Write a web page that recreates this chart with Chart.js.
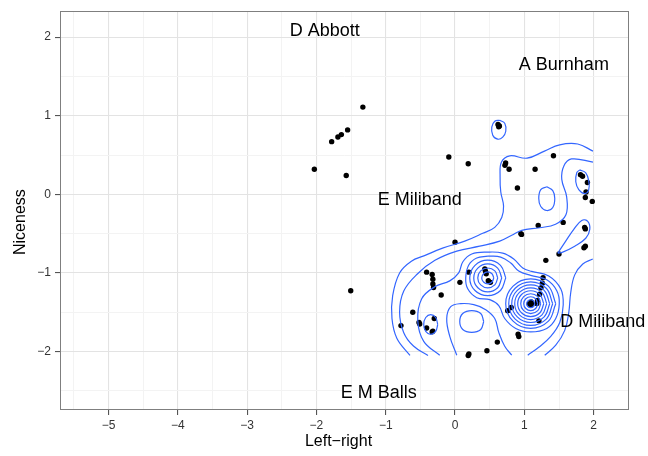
<!DOCTYPE html>
<html>
<head>
<meta charset="utf-8">
<script src="https://cdn.jsdelivr.net/npm/chart.js@4.4.1/dist/chart.umd.min.js"></script>
<style>
  html, body { margin: 0; padding: 0; background: #fff; }
</style>
</head>
<body>
<canvas id="chart" width="648" height="456"></canvas>
<script>
// candidate scores
var pointX = [-1.33, -1.55, -1.64, -1.69, -1.78, -2.03, -1.57, -1.505, -0.09, 0.19,
  0.62, 0.64, 0.63, 0.73, 0.72, 0.78, 1.42, 1.155, 0.90,
  1.81, 1.84, 1.91, 1.89, 1.88, 1.98, 1.20, 1.56, 1.87, 1.88, 0.95, 0.96, 0.00,
  1.86, 1.88, 1.50, 1.31,
  -0.41, -0.33, -0.32, -0.32, -0.31, -0.20, 0.20, 0.07,
  0.43, 0.45, 0.48, 0.51, 0.44,
  1.27, 1.26, 1.24, 1.22, 1.19, 1.18, 1.11, 1.07, 1.09, 1.10,
  0.81, 0.76, 1.21, 0.91, 0.92, 0.61, 0.46, 0.20, 0.19,
  -0.61, -0.52, -0.51, -0.30, -0.41, -0.33, -0.32, -0.78];
var pointY = [1.11, 0.82, 0.76, 0.73, 0.67, 0.32, 0.24, -1.227, 0.475, 0.39,
  0.89, 0.87, 0.86, 0.40, 0.37, 0.32, 0.49, 0.32, 0.08,
  0.25, 0.23, 0.15, 0.03, -0.04, -0.09, -0.395, -0.357, -0.42, -0.44, -0.50, -0.51, -0.61,
  -0.68, -0.66, -0.76, -0.84,
  -0.99, -1.02, -1.08, -1.14, -1.185, -1.28, -0.99, -1.12,
  -0.95, -1.01, -1.10, -1.12, -0.98,
  -1.06, -1.13, -1.19, -1.27, -1.35, -1.39, -1.39, -1.395, -1.41, -1.37,
  -1.44, -1.48, -1.61, -1.78, -1.81, -1.88, -1.99, -2.03, -2.05,
  -1.50, -1.63, -1.65, -1.58, -1.70, -1.75, -1.74, -1.67];

// candidate names
var nameText = ["D Abbott", "A Burnham", "E Miliband", "D Miliband", "E M Balls"];
var nameX = [-1.88, 1.57, -0.51, 2.13, -1.10];
var nameY = [2.08, 1.64, -0.07, -1.63, -2.53];

var xTicks = [-5, -4, -3, -2, -1, 0, 1, 2];
var yTicks = [-2, -1, 0, 1, 2];

// density contours, [x, y]
var lineOuter = [[-0.65,-2.05],[-0.84,-1.83],[-0.91,-1.58],[-0.90,-1.29],[-0.80,-1.00],[-0.63,-0.85],[-0.44,-0.78],[-0.18,-0.685],[0.14,-0.596],[0.40,-0.496],[0.573,-0.42],[0.674,-0.294],[0.70,-0.15],[0.66,0.03],[0.65,0.22],[0.67,0.41],[0.79,0.49],[1.04,0.46],[1.29,0.55],[1.51,0.63],[1.77,0.64],[1.99,0.55]];
var lineSecond = [[-0.39,-2.05],[-0.60,-1.93],[-0.74,-1.76],[-0.80,-1.50],[-0.74,-1.23],[-0.54,-1.01],[-0.29,-0.84],[0.025,-0.723],[0.356,-0.66],[0.645,-0.596],[0.818,-0.521],[0.962,-0.458],[1.22,-0.425],[1.45,-0.38],[1.60,-0.26],[1.61,-0.03],[1.54,0.19],[1.57,0.36],[1.68,0.45],[1.99,0.41]];
var lineThird = [[-0.221,-2.047],[-0.452,-1.870],[-0.538,-1.605],[-0.481,-1.328],[-0.293,-1.177],[-0.076,-1.101],[0.053,-1.000],[0.111,-0.861],[0.241,-0.760],[0.472,-0.735],[0.688,-0.748],[0.847,-0.823],[0.977,-0.937],[1.107,-0.981],[1.352,-1.038],[1.525,-1.202],[1.561,-1.404],[1.511,-1.630],[1.381,-1.807],[1.208,-1.946],[1.049,-2.047]];
var lineArch = [[0.025,-2.047],[-0.076,-1.807],[-0.120,-1.580],[-0.062,-1.429],[0.082,-1.391],[0.270,-1.404],[0.443,-1.467],[0.573,-1.580],[0.631,-1.756],[0.717,-1.933],[0.818,-2.047]];
var lineRight = [[1.987,-0.823],[1.843,-0.887],[1.727,-1.025],[1.669,-1.252],[1.641,-1.504],[1.583,-1.731],[1.453,-1.920],[1.294,-2.047]];
var loopTear = [[1.482,-0.748],[1.597,-0.596],[1.713,-0.445],[1.828,-0.332],[1.915,-0.344],[1.944,-0.445],[1.886,-0.559],[1.727,-0.660],[1.554,-0.735]];
var loopTop = [[0.645,0.942],[0.717,0.904],[0.732,0.803],[0.688,0.728],[0.616,0.702],[0.544,0.753],[0.530,0.854],[0.573,0.929]];
var loopHoleUp = [[1.323,0.097],[1.410,0.047],[1.439,-0.054],[1.410,-0.168],[1.323,-0.206],[1.237,-0.155],[1.208,-0.054],[1.237,0.059]];
var loopEdge = [[1.799,0.311],[1.886,0.274],[1.929,0.173],[1.929,0.059],[1.872,0.009],[1.785,0.059],[1.742,0.160],[1.756,0.274]];
var loopHole = [[0.414,-1.618],[0.371,-1.517],[0.241,-1.479],[0.111,-1.517],[0.068,-1.618],[0.111,-1.719],[0.241,-1.756],[0.371,-1.719]];
var loopLeft = [[-0.250,-1.656],[-0.279,-1.567],[-0.351,-1.530],[-0.423,-1.567],[-0.452,-1.656],[-0.423,-1.744],[-0.351,-1.781],[-0.279,-1.744]];
var loopBoth = [[0.472,-0.786],[0.659,-0.798],[0.804,-0.874],[0.919,-0.975],[1.092,-1.032],[1.323,-1.088],[1.468,-1.227],[1.504,-1.391],[1.453,-1.580],[1.323,-1.706],[1.092,-1.750],[0.876,-1.706],[0.717,-1.580],[0.631,-1.416],[0.501,-1.340],[0.313,-1.315],[0.183,-1.202],[0.154,-1.063],[0.198,-0.899],[0.313,-0.811]];
var ringB1 = [[0.559,-1.063],[0.533,-1.010],[0.472,-0.987],[0.411,-1.010],[0.385,-1.063],[0.411,-1.116],[0.472,-1.139],[0.533,-1.116]];
var ringB2 = [[0.616,-1.063],[0.574,-0.974],[0.472,-0.937],[0.370,-0.974],[0.328,-1.063],[0.370,-1.152],[0.472,-1.189],[0.574,-1.152]];
var ringB3 = [[0.674,-1.063],[0.615,-0.938],[0.472,-0.886],[0.329,-0.938],[0.270,-1.063],[0.329,-1.188],[0.472,-1.240],[0.615,-1.188]];
var ringB4 = [[0.732,-1.063],[0.656,-0.903],[0.472,-0.836],[0.288,-0.903],[0.212,-1.063],[0.288,-1.223],[0.472,-1.290],[0.656,-1.223]];
var ringA1 = [[1.150,-1.391],[1.133,-1.355],[1.092,-1.341],[1.051,-1.355],[1.034,-1.391],[1.051,-1.427],[1.092,-1.441],[1.133,-1.427]];
var ringA2 = [[1.193,-1.391],[1.163,-1.329],[1.092,-1.303],[1.021,-1.329],[0.991,-1.391],[1.021,-1.453],[1.092,-1.479],[1.163,-1.453]];
var ringA3 = [[1.236,-1.391],[1.194,-1.302],[1.092,-1.265],[0.990,-1.302],[0.948,-1.391],[0.990,-1.480],[1.092,-1.517],[1.194,-1.480]];
var ringA4 = [[1.280,-1.391],[1.225,-1.275],[1.092,-1.227],[0.959,-1.275],[0.904,-1.391],[0.959,-1.507],[1.092,-1.555],[1.225,-1.507]];
var ringA5 = [[1.323,-1.391],[1.255,-1.248],[1.092,-1.189],[0.929,-1.248],[0.861,-1.391],[0.929,-1.534],[1.092,-1.593],[1.255,-1.534]];
var ringA6 = [[1.366,-1.391],[1.286,-1.222],[1.092,-1.151],[0.898,-1.222],[0.818,-1.391],[0.898,-1.560],[1.092,-1.631],[1.286,-1.560]];
var ringA7 = [[1.409,-1.391],[1.316,-1.195],[1.092,-1.114],[0.868,-1.195],[0.775,-1.391],[0.868,-1.587],[1.092,-1.668],[1.316,-1.587]];
var ringA8 = [[1.453,-1.391],[1.347,-1.168],[1.092,-1.076],[0.837,-1.168],[0.731,-1.391],[0.837,-1.614],[1.092,-1.706],[1.347,-1.614]];

var openLines = [lineOuter, lineSecond, lineThird, lineArch, lineRight];
var closedLines = [loopTear, loopTop, loopHoleUp, loopEdge, loopHole, loopLeft, loopBoth,
  ringB1, ringB2, ringB3, ringB4,
  ringA1, ringA2, ringA3, ringA4, ringA5, ringA6, ringA7, ringA8];

var FONT = '"Liberation Sans", Arial, Helvetica, sans-serif';

function toXY(arr, close) {
  var out = arr.map(function (p) { return { x: p[0], y: p[1] }; });
  if (close) out.push({ x: arr[0][0], y: arr[0][1] });
  return out;
}

var datasets = [];
openLines.concat(closedLines).forEach(function (arr, i) {
  datasets.push({
    type: "line",
    data: toXY(arr, i >= openLines.length),
    borderColor: "#3366FF",
    borderWidth: 1.2,
    pointRadius: 0,
    tension: 0.4,
    fill: false,
    order: 1
  });
});
datasets.push({
  type: "scatter",
  data: pointX.map(function (x, i) { return { x: x, y: pointY[i] }; }),
  backgroundColor: "#000",
  borderWidth: 0,
  pointRadius: 2.7,
  order: 2
});

function withMinor(major, min, max) {
  var vals = major.slice();
  major.forEach(function (v) { vals.push(v - 0.5); vals.push(v + 0.5); });
  vals = vals.filter(function (v, i) { return vals.indexOf(v) === i && v >= min && v <= max; });
  vals.sort(function (a, b) { return a - b; });
  return vals.map(function (v) { return { value: v }; });
}

function isMajor(v) { return Math.abs(v - Math.round(v)) < 1e-9; }

var gridOpts = {
  color: function (c) { return c.tick && isMajor(c.tick.value) ? "#E3E3E3" : "#F3F3F3"; },
  lineWidth: function (c) { return c.tick && isMajor(c.tick.value) ? 1.1 : 1; },
  tickColor: function (c) { return c.tick && isMajor(c.tick.value) ? "#555" : "rgba(0,0,0,0)"; },
  tickLength: 5
};

var textPlugin = {
  id: "texts",
  afterDatasetsDraw: function (chart) {
    var ctx = chart.ctx, xs = chart.scales.x, ys = chart.scales.y;
    ctx.save();
    ctx.fillStyle = "#000";
    ctx.font = "18px " + FONT;
    ctx.textAlign = "center";
    ctx.textBaseline = "middle";
    nameText.forEach(function (t, i) {
      ctx.fillText(t, xs.getPixelForValue(nameX[i]), ys.getPixelForValue(nameY[i]));
    });
    ctx.restore();
  },
  afterDraw: function (chart) {
    var a = chart.chartArea, ctx = chart.ctx;
    ctx.save();
    ctx.strokeStyle = "#7F7F7F";
    ctx.lineWidth = 1;
    ctx.strokeRect(Math.round(a.left) + 0.5, Math.round(a.top) + 0.5,
      Math.round(a.right - a.left) - 1, Math.round(a.bottom - a.top) - 1);
    // axis titles
    ctx.fillStyle = "#000";
    ctx.font = "16px " + FONT;
    ctx.textAlign = "center";
    ctx.textBaseline = "alphabetic";
    ctx.fillText("Left\u2212right", (a.left + a.right) / 2 - 6, 446);
    ctx.translate(25, (a.top + a.bottom) / 2 + 11.5);
    ctx.rotate(-Math.PI / 2);
    ctx.fillText("Niceness", 0, 0);
    ctx.restore();
  }
};

new Chart(document.getElementById("chart").getContext("2d"), {
  type: "scatter",
  data: { datasets: datasets },
  options: {
    responsive: false,
    animation: false,
    layout: { padding: { left: 0, right: 19, top: 8, bottom: 0 } },
    plugins: { legend: { display: false }, tooltip: { enabled: false } },
    scales: {
      x: {
        type: "linear",
        min: -5.70,
        max: 2.51,
        afterBuildTicks: function (s) { s.ticks = withMinor(xTicks, s.min, s.max); },
        afterFit: function (s) { s.height = 46; },
        grid: gridOpts,
        border: { display: false },
        ticks: {
          autoSkip: false,
          maxRotation: 0,
          padding: 3,
          color: "#333",
          font: { family: FONT, size: 12 },
          callback: function (v) { return isMajor(v) ? String(v).replace("-", "\u2212") : ""; }
        }
      },
      y: {
        type: "linear",
        min: -2.744,
        max: 2.33,
        afterBuildTicks: function (s) { s.ticks = withMinor(yTicks, s.min, s.max); },
        afterFit: function (s) { s.width = 60; },
        grid: gridOpts,
        border: { display: false },
        ticks: {
          autoSkip: false,
          padding: 4,
          color: "#333",
          font: { family: FONT, size: 12 },
          callback: function (v) { return isMajor(v) ? String(v).replace("-", "\u2212") : ""; }
        }
      }
    }
  },
  plugins: [textPlugin]
});
</script>
</body>
</html>
